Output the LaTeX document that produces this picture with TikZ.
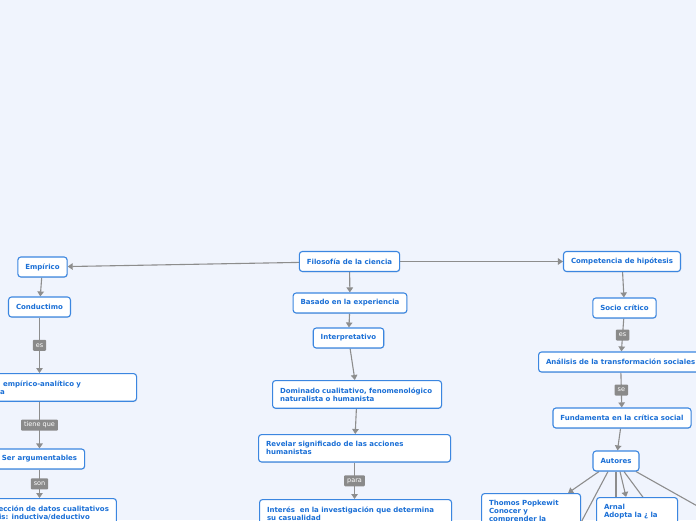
\documentclass[tikz,border=0pt]{standalone}
\usepackage{fontspec}
\newfontfamily\mapfont{DejaVu Sans}
\usetikzlibrary{arrows.meta,backgrounds,shadows}
\definecolor{mapbg}{HTML}{F0F4FD}
\definecolor{mapblue}{HTML}{3B86E0}
\definecolor{maptext}{HTML}{1A6FD6}
\definecolor{mapline}{HTML}{8D8D8D}
\definecolor{maplbl}{HTML}{8A8A8A}

\begin{document}
\begin{tikzpicture}[x=1pt,y=-1pt,
  box/.style={draw=mapblue, line width=1.1pt, fill=white, rounded corners=3pt, text=maptext, font=\mapfont\bfseries\fontsize{7}{8}\selectfont, inner xsep=7.5pt, inner ysep=0pt, minimum height=20pt, drop shadow={shadow xshift=0.5pt, shadow yshift=-0.8pt, opacity=0.2}},
  wbox/.style={box, align=left, text width=#1, inner ysep=7pt, anchor=north west},
  conn/.style={draw=mapline, line width=1.1pt, -{Triangle[width=6.5pt,length=5pt]}},
  link/.style={draw=mapline, line width=1.1pt},
  lbl/.style={fill=maplbl, text=white, rounded corners=1pt, font=\mapfont\fontsize{6.5}{7}\selectfont, inner xsep=3pt, inner ysep=2.25pt, text height=5pt, text depth=1.5pt}]
\useasboundingbox (0,0) rectangle (696,520);
\clip (0,0) rectangle (696,520);
\node[box] (fil) at (349.5,261.5) {Filosofía de la ciencia};
\node[box] (emp) at (42.5,267) {Empírico};
\node[box] (cond) at (39.5,307) {Conductimo};
\node[wbox=189pt] (ana) at (-68,373) {\hspace*{63pt}empírico-analítico y\\\hspace*{60pt}a};
\node[box] (ser) at (39.5,459) {Ser argumentables};
\node[box, align=left, inner ysep=7pt, anchor=north west] (rec) at (-95,498) {\hspace*{85.5pt}ección de datos cualitativos\\\hspace*{86pt}is: inductiva/deductivo};
\node[box] (bas) at (350,303) {Basado en la experiencia};
\node[box] (int) at (348.5,338) {Interpretativo};
\node[wbox=154pt] (dom) at (272,380) {Dominado cualitativo, fenomenológico\\naturalista o humanista};
\node[wbox=177pt] (rev) at (258,434) {Revelar significado de las acciones\\humanistas};
\node[wbox=177pt] (intr) at (259,499) {Interés\ \ en la investigación que determina\\su casualidad};
\node[box] (comp) at (622,261.5) {Competencia de hipótesis};
\node[box] (soc) at (624.5,308) {Socio crítico};
\node[box, anchor=west] (anal) at (538,362) {Análisis de la transformación sociales};
\node[box] (fund) at (622,418) {Fundamenta en la crítica social};
\node[box] (aut) at (616,461) {Autores};
\node[wbox=84pt] (tho) at (481,493) {Thomos Popkewit\\Conocer y\\comprender la};
\node[wbox=66pt] (arn) at (596,497) {Arnal\\Adopta la ¿ la};
\coordinate (hidA) at (569,545);
\coordinate (hidB) at (616,560);
\coordinate (hidC) at (665,527);
\coordinate (hidD) at (740,530);
\begin{scope}[on background layer]
\clip (0,0) rectangle (696,520);
\fill[mapbg] (0,0) rectangle (696,520);
\draw[conn] (fil) -- (emp);
\draw[conn] (emp) -- (cond);
\draw[conn] (cond) -- node[lbl]{es} (cond |- ana.north);
\draw[conn] (ana.south -| ser) -- node[lbl]{tiene que} (ser);
\draw[conn] (ser) -- node[lbl]{son} (ser |- rec.north);
\draw[conn] (fil) -- (bas);
\draw[conn] (bas) -- (int);
\draw[conn] (int) -- (dom);
\draw[conn] (dom) -- (rev);
\draw[conn] (rev) -- node[lbl]{para} (rev |- intr.north);
\draw[conn] (fil) -- (comp);
\draw[conn] (comp) -- (soc);
\draw[conn] (soc) -- node[lbl]{es} (anal);
\draw[conn] (anal) -- node[lbl]{se} (fund);
\draw[conn] (fund) -- (aut);
\draw[conn] ([xshift=-17pt]aut.south) -- ([xshift=-13pt]tho.north east);
\draw[link] ([xshift=-8pt]aut.south) -- (hidA);
\draw[link] (aut.south) -- (hidB);
\draw[conn] ([xshift=4pt]aut.south) -- ([xshift=-11pt]arn.north);
\draw[link] ([xshift=8pt]aut.south) -- (hidC);
\draw[link] ([xshift=20pt]aut.south) -- (hidD);
\end{scope}
\end{tikzpicture}
\end{document}
